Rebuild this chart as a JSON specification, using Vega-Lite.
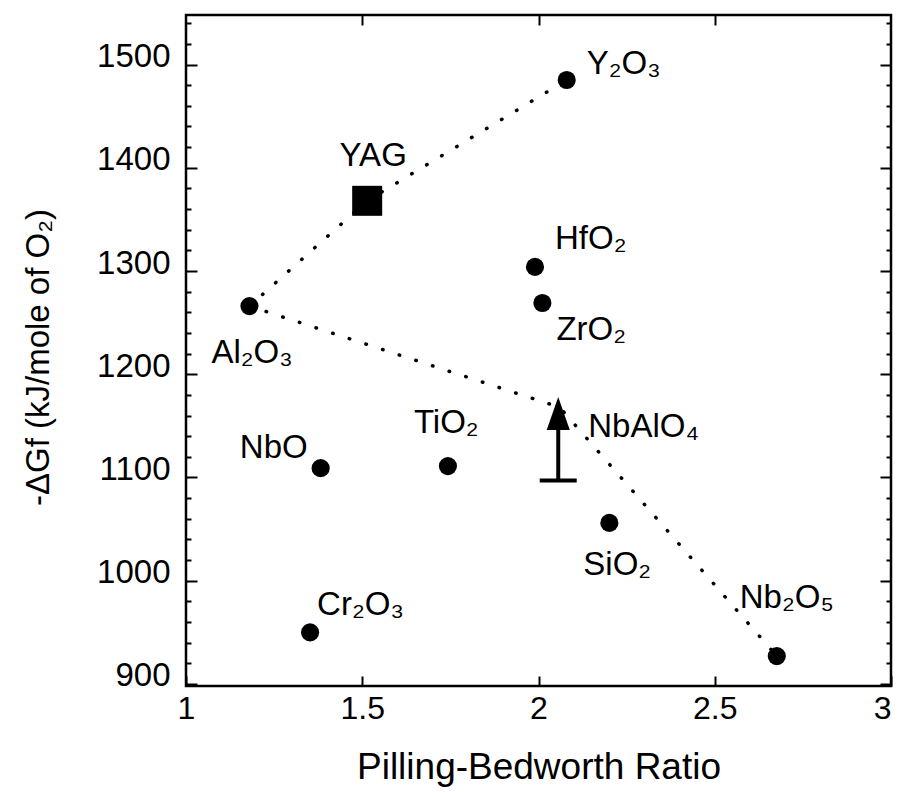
{
  "$schema": "https://vega.github.io/schema/vega-lite/v6.json",
  "width": 705,
  "height": 671,
  "autosize": "none",
  "padding": {"left": 186, "top": 15, "right": 6, "bottom": 106},
  "background": "white",
  "config": {
    "view": {"stroke": "black", "strokeWidth": 2.5},
    "font": "Liberation Sans"
  },
  "datasets": {
    "oxides": [
      {"name": "Y2O3", "label": "Y₂O₃", "kind": "oxide", "pbr": 2.08, "dg": 1485},
      {"name": "YAG", "label": "YAG", "kind": "garnet", "pbr": 1.514, "dg": 1368},
      {"name": "Al2O3", "label": "Al₂O₃", "kind": "oxide", "pbr": 1.18, "dg": 1266},
      {"name": "HfO2", "label": "HfO₂", "kind": "oxide", "pbr": 1.99, "dg": 1304},
      {"name": "ZrO2", "label": "ZrO₂", "kind": "oxide", "pbr": 2.011, "dg": 1269},
      {"name": "NbO", "label": "NbO", "kind": "oxide", "pbr": 1.382, "dg": 1109},
      {"name": "TiO2", "label": "TiO₂", "kind": "oxide", "pbr": 1.743, "dg": 1111},
      {"name": "SiO2", "label": "SiO₂", "kind": "oxide", "pbr": 2.201, "dg": 1056},
      {"name": "Cr2O3", "label": "Cr₂O₃", "kind": "oxide", "pbr": 1.352, "dg": 950},
      {"name": "Nb2O5", "label": "Nb₂O₅", "kind": "oxide", "pbr": 2.676, "dg": 927}
    ],
    "lines": [
      {"path": "Y", "order": 1, "pbr": 1.18, "dg": 1266},
      {"path": "Y", "order": 2, "pbr": 1.514, "dg": 1368},
      {"path": "Y", "order": 3, "pbr": 2.08, "dg": 1485},
      {"path": "Nb", "order": 1, "pbr": 1.18, "dg": 1266},
      {"path": "Nb", "order": 2, "pbr": 2.06, "dg": 1168},
      {"path": "Nb", "order": 3, "pbr": 2.676, "dg": 927}
    ],
    "arrow": [
      {"name": "NbAlO4", "label": "NbAlO₄", "pbr": 2.056, "low": 1097, "high": 1150, "head": 1162}
    ]
  },
  "layer": [
    {
      "data": {"name": "lines"},
      "mark": {"type": "line", "stroke": "black", "strokeWidth": 3.5, "strokeDash": [0.5, 17], "strokeCap": "round"},
      "encoding": {
        "x": {
          "field": "pbr", "type": "quantitative",
          "scale": {"domain": [1, 3], "nice": false, "zero": false},
          "axis": {
            "orient": "bottom", "values": [1, 1.5, 2, 2.5, 3], "format": "~g",
            "domain": false, "grid": false,
            "tickSize": -10, "tickWidth": 2, "tickColor": "black",
            "labelFontSize": 32, "labelFont": "Liberation Sans", "labelColor": "black",
            "labelPadding": 17, "labelFlush": false, "labelOverlap": false, "labelBound": false,
            "labelAlign": {"condition": {"test": "datum.value === 3", "value": "right"}, "value": "center"},
            "title": "Pilling-Bedworth Ratio", "titleFontSize": 37, "titleFont": "Liberation Sans",
            "titleFontWeight": "normal", "titleColor": "black",
            "titleY": 92, "titleBaseline": "alphabetic"
          }
        },
        "y": {
          "field": "dg", "type": "quantitative",
          "scale": {"domain": [898, 1548], "nice": false, "zero": false},
          "axis": {
            "orient": "left",
            "values": [900, 920, 940, 960, 980, 1000, 1020, 1040, 1060, 1080, 1100, 1120, 1140, 1160, 1180, 1200, 1220, 1240, 1260, 1280, 1300, 1320, 1340, 1360, 1380, 1400, 1420, 1440, 1460, 1480, 1500, 1520, 1540],
            "labelExpr": "datum.value % 100 === 0 ? format(datum.value, 'd') : ''",
            "domain": false, "grid": false,
            "tickSize": {"condition": {"test": "datum.value % 100 === 0", "value": -11}, "value": -5},
            "tickWidth": 2, "tickColor": "black",
            "labelFontSize": 33, "labelFont": "Liberation Sans", "labelColor": "black",
            "labelPadding": 27, "labelOffset": -8, "labelOverlap": false, "labelBound": false, "labelFlush": false,
            "title": "-ΔGf (kJ/mole of O₂)", "titleFontSize": 33, "titleFont": "Liberation Sans",
            "titleFontWeight": "normal", "titleColor": "black",
            "titleAngle": -90, "titleX": -138, "titleY": 342, "titleAlign": "center", "titleBaseline": "alphabetic"
          }
        },
        "detail": {"field": "path"},
        "order": {"field": "order"}
      }
    },
    {
      "data": {"name": "oxides"},
      "mark": {"type": "point", "filled": true, "color": "black", "opacity": 1},
      "encoding": {
        "x": {
          "field": "pbr", "type": "quantitative",
          "scale": {"domain": [1, 3], "nice": false, "zero": false},
          "axis": {
            "orient": "top", "values": [1.5, 2, 2.5], "labels": false, "domain": false, "grid": false,
            "tickSize": -10, "tickWidth": 2, "tickColor": "black", "title": null
          }
        },
        "y": {
          "field": "dg", "type": "quantitative",
          "scale": {"domain": [898, 1548], "nice": false, "zero": false},
          "axis": {
            "orient": "right",
            "values": [900, 920, 940, 960, 980, 1000, 1020, 1040, 1060, 1080, 1100, 1120, 1140, 1160, 1180, 1200, 1220, 1240, 1260, 1280, 1300, 1320, 1340, 1360, 1380, 1400, 1420, 1440, 1460, 1480, 1500, 1520, 1540],
            "labels": false, "domain": false, "grid": false,
            "tickSize": {"condition": {"test": "datum.value % 100 === 0", "value": -11}, "value": -5},
            "tickWidth": 2, "tickColor": "black", "title": null
          }
        },
        "shape": {"field": "kind", "type": "nominal", "scale": {"domain": ["oxide", "garnet"], "range": ["circle", "square"]}, "legend": null},
        "size": {"field": "kind", "type": "nominal", "scale": {"domain": ["oxide", "garnet"], "range": [330, 900]}, "legend": null}
      }
    },
    {
      "data": {"name": "arrow"},
      "mark": {"type": "rule", "color": "black", "strokeWidth": 4},
      "encoding": {
        "x": {"field": "pbr", "type": "quantitative", "scale": {"domain": [1, 3], "nice": false, "zero": false}, "axis": null},
        "y": {"field": "low", "type": "quantitative", "scale": {"domain": [898, 1548], "nice": false, "zero": false}, "axis": null},
        "y2": {"field": "high"}
      }
    },
    {
      "data": {"name": "arrow"},
      "mark": {"type": "tick", "orient": "horizontal", "color": "black", "size": 37, "thickness": 4, "opacity": 1},
      "encoding": {
        "x": {"field": "pbr", "type": "quantitative", "scale": {"domain": [1, 3], "nice": false, "zero": false}, "axis": null},
        "y": {"field": "low", "type": "quantitative", "scale": {"domain": [898, 1548], "nice": false, "zero": false}, "axis": null}
      }
    },
    {
      "data": {"name": "arrow"},
      "mark": {"type": "point", "shape": "M0,-1L0.7,1L-0.7,1Z", "filled": true, "color": "black", "opacity": 1, "size": 1089},
      "encoding": {
        "x": {"field": "pbr", "type": "quantitative", "scale": {"domain": [1, 3], "nice": false, "zero": false}, "axis": null},
        "y": {"field": "head", "type": "quantitative", "scale": {"domain": [898, 1548], "nice": false, "zero": false}, "axis": null}
      }
    },
    {
      "data": {"name": "arrow"},
      "mark": {"type": "text", "font": "Liberation Sans", "fontSize": 33, "color": "black", "align": "left", "baseline": "alphabetic", "dx": 30, "dy": 24},
      "encoding": {
        "x": {"field": "pbr", "type": "quantitative", "scale": {"domain": [1, 3], "nice": false, "zero": false}, "axis": null},
        "y": {"field": "head", "type": "quantitative", "scale": {"domain": [898, 1548], "nice": false, "zero": false}, "axis": null},
        "text": {"field": "label"}
      }
    },
    {
      "data": {"name": "oxides"},
      "transform": [{"filter": "datum.name === 'Y2O3'"}],
      "mark": {"type": "text", "font": "Liberation Sans", "fontSize": 33, "color": "black", "align": "left", "baseline": "alphabetic", "dx": 20, "dy": -6},
      "encoding": {
        "x": {"field": "pbr", "type": "quantitative", "scale": {"domain": [1, 3], "nice": false, "zero": false}, "axis": null},
        "y": {"field": "dg", "type": "quantitative", "scale": {"domain": [898, 1548], "nice": false, "zero": false}, "axis": null},
        "text": {"field": "label"}
      }
    },
    {
      "data": {"name": "oxides"},
      "transform": [{"filter": "datum.name === 'HfO2'"}],
      "mark": {"type": "text", "font": "Liberation Sans", "fontSize": 33, "color": "black", "align": "left", "baseline": "alphabetic", "dx": 20, "dy": -18},
      "encoding": {
        "x": {"field": "pbr", "type": "quantitative", "scale": {"domain": [1, 3], "nice": false, "zero": false}, "axis": null},
        "y": {"field": "dg", "type": "quantitative", "scale": {"domain": [898, 1548], "nice": false, "zero": false}, "axis": null},
        "text": {"field": "label"}
      }
    },
    {
      "data": {"name": "oxides"},
      "transform": [{"filter": "datum.name === 'ZrO2'"}],
      "mark": {"type": "text", "font": "Liberation Sans", "fontSize": 33, "color": "black", "align": "left", "baseline": "alphabetic", "dx": 14, "dy": 37},
      "encoding": {
        "x": {"field": "pbr", "type": "quantitative", "scale": {"domain": [1, 3], "nice": false, "zero": false}, "axis": null},
        "y": {"field": "dg", "type": "quantitative", "scale": {"domain": [898, 1548], "nice": false, "zero": false}, "axis": null},
        "text": {"field": "label"}
      }
    },
    {
      "data": {"name": "oxides"},
      "transform": [{"filter": "datum.name === 'YAG'"}],
      "mark": {"type": "text", "font": "Liberation Sans", "fontSize": 33, "color": "black", "align": "center", "baseline": "alphabetic", "dx": 6, "dy": -35},
      "encoding": {
        "x": {"field": "pbr", "type": "quantitative", "scale": {"domain": [1, 3], "nice": false, "zero": false}, "axis": null},
        "y": {"field": "dg", "type": "quantitative", "scale": {"domain": [898, 1548], "nice": false, "zero": false}, "axis": null},
        "text": {"field": "label"}
      }
    },
    {
      "data": {"name": "oxides"},
      "transform": [{"filter": "datum.name === 'Al2O3'"}],
      "mark": {"type": "text", "font": "Liberation Sans", "fontSize": 33, "color": "black", "align": "left", "baseline": "alphabetic", "dx": -38, "dy": 57},
      "encoding": {
        "x": {"field": "pbr", "type": "quantitative", "scale": {"domain": [1, 3], "nice": false, "zero": false}, "axis": null},
        "y": {"field": "dg", "type": "quantitative", "scale": {"domain": [898, 1548], "nice": false, "zero": false}, "axis": null},
        "text": {"field": "label"}
      }
    },
    {
      "data": {"name": "oxides"},
      "transform": [{"filter": "datum.name === 'NbO'"}],
      "mark": {"type": "text", "font": "Liberation Sans", "fontSize": 33, "color": "black", "align": "right", "baseline": "alphabetic", "dx": -13, "dy": -10},
      "encoding": {
        "x": {"field": "pbr", "type": "quantitative", "scale": {"domain": [1, 3], "nice": false, "zero": false}, "axis": null},
        "y": {"field": "dg", "type": "quantitative", "scale": {"domain": [898, 1548], "nice": false, "zero": false}, "axis": null},
        "text": {"field": "label"}
      }
    },
    {
      "data": {"name": "oxides"},
      "transform": [{"filter": "datum.name === 'TiO2'"}],
      "mark": {"type": "text", "font": "Liberation Sans", "fontSize": 33, "color": "black", "align": "left", "baseline": "alphabetic", "dx": -34, "dy": -33},
      "encoding": {
        "x": {"field": "pbr", "type": "quantitative", "scale": {"domain": [1, 3], "nice": false, "zero": false}, "axis": null},
        "y": {"field": "dg", "type": "quantitative", "scale": {"domain": [898, 1548], "nice": false, "zero": false}, "axis": null},
        "text": {"field": "label"}
      }
    },
    {
      "data": {"name": "oxides"},
      "transform": [{"filter": "datum.name === 'SiO2'"}],
      "mark": {"type": "text", "font": "Liberation Sans", "fontSize": 33, "color": "black", "align": "left", "baseline": "alphabetic", "dx": -26, "dy": 52},
      "encoding": {
        "x": {"field": "pbr", "type": "quantitative", "scale": {"domain": [1, 3], "nice": false, "zero": false}, "axis": null},
        "y": {"field": "dg", "type": "quantitative", "scale": {"domain": [898, 1548], "nice": false, "zero": false}, "axis": null},
        "text": {"field": "label"}
      }
    },
    {
      "data": {"name": "oxides"},
      "transform": [{"filter": "datum.name === 'Cr2O3'"}],
      "mark": {"type": "text", "font": "Liberation Sans", "fontSize": 33, "color": "black", "align": "left", "baseline": "alphabetic", "dx": 7, "dy": -17},
      "encoding": {
        "x": {"field": "pbr", "type": "quantitative", "scale": {"domain": [1, 3], "nice": false, "zero": false}, "axis": null},
        "y": {"field": "dg", "type": "quantitative", "scale": {"domain": [898, 1548], "nice": false, "zero": false}, "axis": null},
        "text": {"field": "label"}
      }
    },
    {
      "data": {"name": "oxides"},
      "transform": [{"filter": "datum.name === 'Nb2O5'"}],
      "mark": {"type": "text", "font": "Liberation Sans", "fontSize": 33, "color": "black", "align": "left", "baseline": "alphabetic", "dx": -37, "dy": -48},
      "encoding": {
        "x": {"field": "pbr", "type": "quantitative", "scale": {"domain": [1, 3], "nice": false, "zero": false}, "axis": null},
        "y": {"field": "dg", "type": "quantitative", "scale": {"domain": [898, 1548], "nice": false, "zero": false}, "axis": null},
        "text": {"field": "label"}
      }
    }
  ],
  "resolve": {"axis": {"x": "independent", "y": "independent"}}
}
